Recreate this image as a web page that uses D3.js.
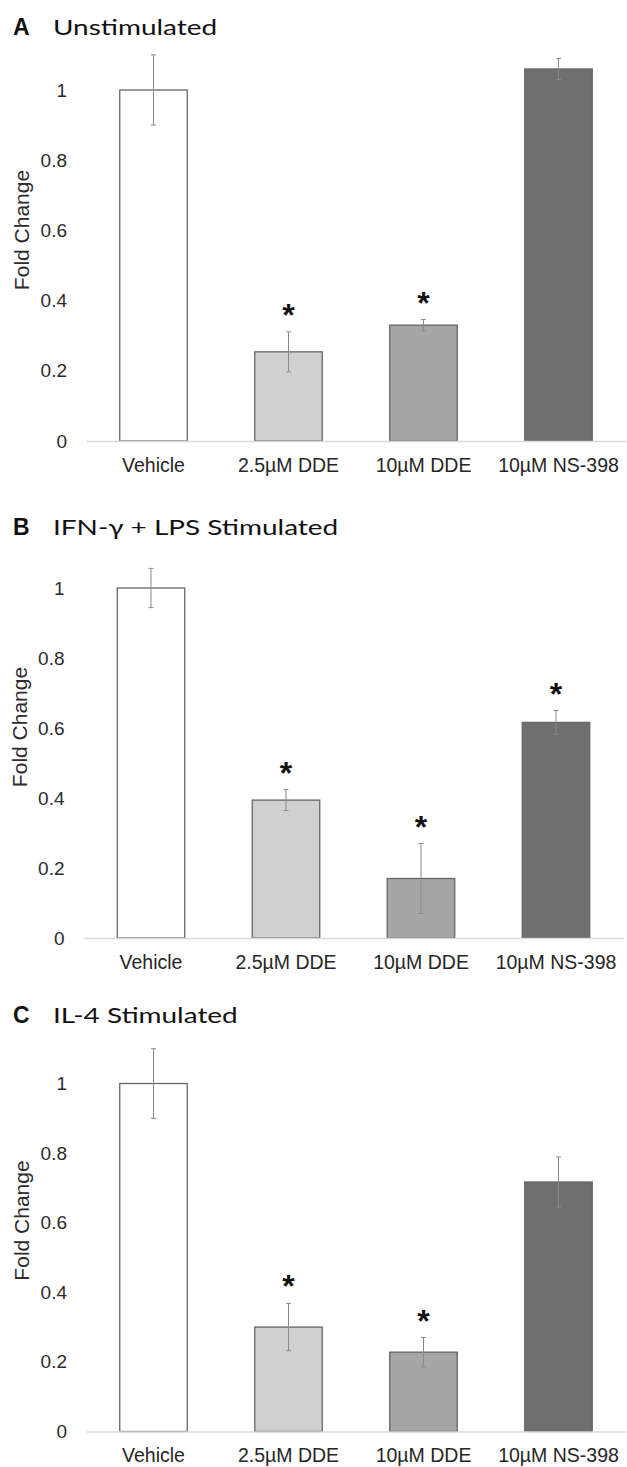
<!DOCTYPE html>
<html>
<head>
<meta charset="utf-8">
<script src="https://cdn.jsdelivr.net/npm/d3@7"></script>
<style>
body { margin:0; background:#fff; }
.tick text { font-family:"Liberation Sans", Arial, sans-serif; }
</style>
</head>
<body>
<svg id="figure"></svg>
<script>
// categories on the x axis (same in every panel)
var categories = ["Vehicle", "2.5\u00b5M DDE", "10\u00b5M DDE", "10\u00b5M NS-398"];
var yTicks = [0, 0.2, 0.4, 0.6, 0.8, 1];

var panelLetters = ["A", "B", "C"];
var panelTitles = ["Unstimulated", "IFN-\u03b3 + LPS Stimulated", "IL-4 Stimulated"];

// A - unstimulated
var unstimMeans = [1.00, 0.254, 0.33, 1.06];
var unstimErrors = [0.10, 0.057, 0.016, 0.03];
var unstimStars = [false, true, true, false];

// B - IFN-g + LPS
var ifnMeans = [1.00, 0.394, 0.17, 0.616];
var ifnErrors = [0.056, 0.03, 0.10, 0.034];
var ifnStars = [false, true, true, true];

// C - IL-4
var il4Means = [1.00, 0.30, 0.228, 0.717];
var il4Errors = [0.10, 0.068, 0.042, 0.072];
var il4Stars = [false, true, true, false];

var barColors = ["#ffffff", "#d0d0d0", "#a6a6a6", "#6f6f6f"];

var screen = {width:627, height:1467};

// where each panel sits on the page
var layouts = [
    {dx:0,    zero:441,    unit:351, titleY:35},
    {dx:-2.5, zero:938,    unit:350, titleY:535},
    {dx:0,    zero:1431.5, unit:348, titleY:1023}
];

var panelData = [
    {means:unstimMeans, errors:unstimErrors, stars:unstimStars},
    {means:ifnMeans, errors:ifnErrors, stars:ifnStars},
    {means:il4Means, errors:il4Errors, stars:il4Stars}
];

var svg = d3.select("#figure")
    .attr("width", screen.width)
    .attr("height", screen.height);

var drawPanel = function(i)
{
    var lay = layouts[i];
    var d = panelData[i];
    var rows = categories.map(function(c, k){
        return {cat:c, mean:d.means[k], err:d.errors[k], star:d.stars[k], color:barColors[k]};
    });

    var xScale = d3.scaleBand()
        .domain(categories)
        .range([86 + lay.dx, 626 + lay.dx])
        .paddingInner(0.5)
        .paddingOuter(0.25);

    var yScale = d3.scaleLinear()
        .domain([0, 1])
        .range([lay.zero, lay.zero - lay.unit]);

    var g = svg.append("g");

    // title
    g.append("text")
        .text(panelLetters[i])
        .attr("x", 13)
        .attr("y", lay.titleY)
        .attr("font-family", "Liberation Sans, Arial, sans-serif")
        .attr("font-weight", "bold")
        .attr("font-size", 23)
        .attr("fill", "#111");
    g.append("text")
        .text(panelTitles[i])
        .attr("transform", "translate(53," + lay.titleY + ") scale(1.27,1)")
        .attr("font-family", "Lato, sans-serif")
        .attr("font-size", 22)
        .attr("fill", "#111");

    // y axis, labels only
    var yAxis = d3.axisLeft(yScale)
        .tickValues(yTicks)
        .tickFormat(d3.format("~g"))
        .tickSize(0)
        .tickPadding(19);
    var ya = g.append("g")
        .attr("transform", "translate(" + (86 + lay.dx) + ",0)")
        .call(yAxis);
    ya.select(".domain").remove();
    ya.selectAll("text")
        .attr("font-size", 19)
        .attr("fill", "#2b2b2b");

    g.append("text")
        .text("Fold Change")
        .attr("transform", "translate(" + (29 + lay.dx) + "," + (lay.zero - 211) + ") rotate(-90)")
        .attr("text-anchor", "middle")
        .attr("font-family", "Liberation Sans, Arial, sans-serif")
        .attr("font-size", 21)
        .attr("fill", "#2b2b2b");

    // bars
    g.selectAll("rect.bar")
        .data(rows)
        .enter()
        .append("rect")
        .attr("class", "bar")
        .attr("x", function(r){ return xScale(r.cat); })
        .attr("width", xScale.bandwidth())
        .attr("y", function(r){ return yScale(r.mean); })
        .attr("height", function(r){ return yScale(0) - yScale(r.mean); })
        .attr("fill", function(r){ return r.color; })
        .attr("stroke", "#666")
        .attr("stroke-width", 1.3);

    // x axis line + category labels
    var xAxis = d3.axisBottom(xScale)
        .tickSize(0)
        .tickSizeOuter(0)
        .tickPadding(17);
    var xa = g.append("g")
        .attr("transform", "translate(0," + yScale(0) + ")")
        .call(xAxis);
    xa.select(".domain")
        .attr("stroke", "#d9d9d9")
        .attr("stroke-width", 1.5);
    xa.selectAll("text")
        .attr("font-size", 19.5)
        .attr("fill", "#262626");

    // error bars
    var cx = function(r){ return xScale(r.cat) + xScale.bandwidth() / 2; };
    var eb = g.selectAll("g.err")
        .data(rows)
        .enter()
        .append("g")
        .attr("class", "err")
        .attr("stroke", "#8a8a8a")
        .attr("stroke-width", 1);
    eb.append("line")
        .attr("x1", cx).attr("x2", cx)
        .attr("y1", function(r){ return yScale(r.mean + r.err); })
        .attr("y2", function(r){ return yScale(r.mean - r.err); });
    eb.append("line")
        .attr("x1", function(r){ return cx(r) - 2.5; })
        .attr("x2", function(r){ return cx(r) + 2.5; })
        .attr("y1", function(r){ return yScale(r.mean + r.err); })
        .attr("y2", function(r){ return yScale(r.mean + r.err); });
    eb.append("line")
        .attr("x1", function(r){ return cx(r) - 2.5; })
        .attr("x2", function(r){ return cx(r) + 2.5; })
        .attr("y1", function(r){ return yScale(r.mean - r.err); })
        .attr("y2", function(r){ return yScale(r.mean - r.err); });

    // significance stars
    g.selectAll("text.star")
        .data(rows.filter(function(r){ return r.star; }))
        .enter()
        .append("text")
        .attr("class", "star")
        .text("*")
        .attr("x", cx)
        .attr("y", function(r){ return yScale(r.mean + r.err) - 24 + 18; })
        .attr("text-anchor", "middle")
        .attr("font-family", "Liberation Sans, Arial, sans-serif")
        .attr("font-weight", "bold")
        .attr("font-size", 32)
        .attr("fill", "#111");
}

for (var i = 0; i < 3; i++) { drawPanel(i); }
</script>
</body>
</html>
